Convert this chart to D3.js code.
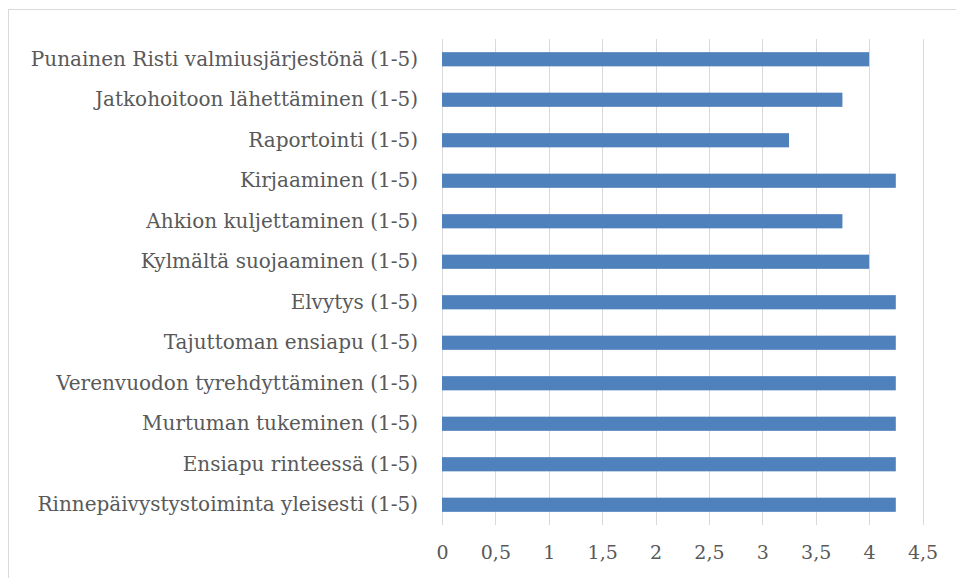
<!DOCTYPE html>
<html>
<head>
<meta charset="utf-8">
<script src="https://cdn.jsdelivr.net/npm/d3@7"></script>
<style>
  body { margin: 0; background: #ffffff; }
</style>
</head>
<body>
<div id="chart"></div>
<script>
// Categories, top to bottom as drawn
var categories = [
  'Punainen Risti valmiusjärjestönä (1-5)',
  'Jatkohoitoon lähettäminen (1-5)',
  'Raportointi (1-5)',
  'Kirjaaminen (1-5)',
  'Ahkion kuljettaminen (1-5)',
  'Kylmältä suojaaminen (1-5)',
  'Elvytys (1-5)',
  'Tajuttoman ensiapu (1-5)',
  'Verenvuodon tyrehdyttäminen (1-5)',
  'Murtuman tukeminen (1-5)',
  'Ensiapu rinteessä (1-5)',
  'Rinnepäivystystoiminta yleisesti (1-5)'
];
var values = [4, 3.75, 3.25, 4.25, 3.75, 4, 4.25, 4.25, 4.25, 4.25, 4.25, 4.25];
var xTicks = [0, 0.5, 1, 1.5, 2, 2.5, 3, 3.5, 4, 4.5];

var width = 956, height = 578;
var plot = {left: 442, right: 922.5, top: 39, bottom: 525};
var textColor = '#595959';
var font = '"DejaVu Serif", serif';

var svg = d3.select('#chart').append('svg')
  .attr('width', width)
  .attr('height', height);

// Chart area border (runs off the right and bottom of the picture)
svg.append('rect')
  .attr('x', 8.5).attr('y', 9.5)
  .attr('width', 1000).attr('height', 1000)
  .attr('fill', 'none')
  .attr('stroke', '#d9d9d9');

var x = d3.scaleLinear().domain([0, 4.5]).range([plot.left, plot.right]);
var y = d3.scaleBand().domain(categories).range([plot.top, plot.bottom]).paddingInner(0.65).paddingOuter(0.325);

// Vertical gridlines
svg.append('g')
  .selectAll('line')
  .data(xTicks)
  .enter().append('line')
  .attr('x1', function(d) { return Math.round(x(d)) + 0.5; })
  .attr('x2', function(d) { return Math.round(x(d)) + 0.5; })
  .attr('y1', plot.top)
  .attr('y2', plot.bottom)
  .attr('stroke', '#d9d9d9')
  .attr('stroke-width', 1);

// Bars
svg.append('g')
  .selectAll('rect')
  .data(categories)
  .enter().append('rect')
  .attr('x', x(0))
  .attr('y', function(d) { return y(d); })
  .attr('width', function(d, i) { return x(values[i]) - x(0); })
  .attr('height', y.bandwidth())
  .attr('fill', '#4f81bd');

// X axis labels
var fmt = function(d) { return String(d).replace('.', ','); };
svg.append('g')
  .attr('transform', 'translate(0,' + plot.bottom + ')')
  .call(d3.axisBottom(x).tickValues(xTicks).tickFormat(fmt).tickSize(0).tickPadding(21))
  .call(function(g) { g.select('.domain').remove(); })
  .selectAll('text')
  .style('font-family', font)
  .style('font-size', '19px')
  .attr('fill', textColor);

// Category labels
svg.append('g')
  .attr('transform', 'translate(' + plot.left + ',0)')
  .call(d3.axisLeft(y).tickSize(0).tickPadding(24))
  .call(function(g) { g.select('.domain').remove(); })
  .selectAll('text')
  .style('font-family', font)
  .style('font-size', '20px')
  .attr('fill', textColor);
</script>
</body>
</html>
